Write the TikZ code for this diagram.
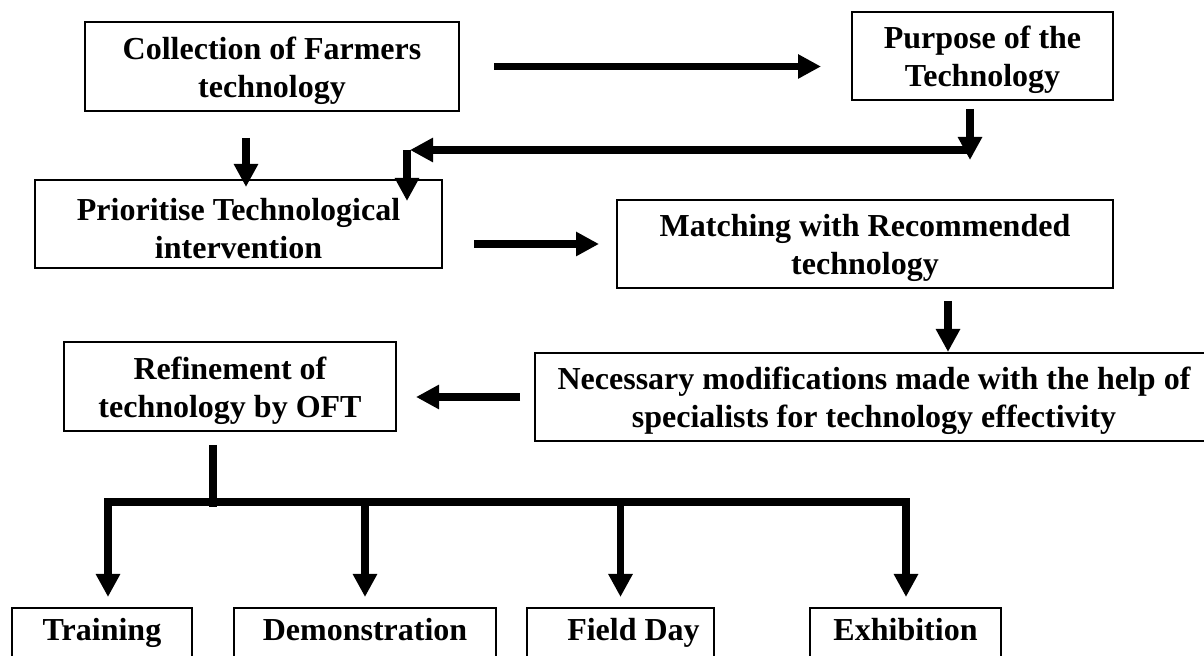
\documentclass[tikz,border=0pt]{standalone}
\usepackage{fontspec}
\setmainfont{Liberation Serif}
\usepackage{tikz}
\usetikzlibrary{arrows.meta, positioning}

% extra room above the first line, as in the original boxes
\newcommand{\toproom}{\rule{0pt}{15.5pt}}

\begin{document}
\begin{tikzpicture}[x=0.5pt, y=-0.5pt,
  stagebox/.style={draw, line width=1pt, align=center, inner sep=0pt,
    minimum height=44pt, font=\fontsize{16}{19}\selectfont\bfseries},
  outbox/.style={stagebox, minimum height=26pt, text height=11pt, text depth=4pt},
  flow/.style={-{Triangle[length=11.5pt, width=11.5pt]}, line width=3.75pt},
  trunk/.style={line width=3.75pt}]
  \useasboundingbox (0,0) rectangle (1204,656);
  \clip (0,0) rectangle (1204,656);

  % Stages
  \node[stagebox, minimum width=187pt, minimum height=44.5pt] (collect) at (272,66.5)
       {\toproom Collection of Farmers\\technology};
  \node[stagebox, minimum width=130.5pt] (purpose) at (982.5,56)
       {\toproom Purpose of the\\Technology};
  \node[stagebox, minimum width=203.5pt] (prior) at (238.5,224)
       {\toproom Prioritise Technological\\intervention};
  \node[stagebox, minimum width=248pt] (match) at (865,244)
       {\toproom Matching with Recommended\\technology};
  \node[stagebox, minimum width=339pt] (modify) at (874,397)
       {\toproom Necessary modifications made with the help of\\specialists for technology effectivity};
  \node[stagebox, minimum width=166pt, minimum height=44.5pt] (refine) at (230,386.5)
       {\toproom Refinement of\\technology by OFT};

  % Outreach boxes (bottom edges run off the page)
  \node[outbox, minimum width=90pt]   (train) at (102,634)   {Training};
  \node[outbox, minimum width=131pt]  (demo)  at (365,634)   {Demonstration};
  \node[outbox, minimum width=93.5pt] (field) at (620.5,634) {\hspace*{13pt}Field Day};
  \node[outbox, minimum width=95.5pt] (exhib) at (905.5,634) {Exhibition};

  % Helper points
  \coordinate (c1) at ([xshift=-13pt]collect.south);
  \coordinate (p1) at ([xshift=-6.25pt]purpose.south);
  \coordinate (m1) at ([xshift=41.5pt]match.south);
  \coordinate (r1) at ([xshift=-8.5pt]refine.south);
  \coordinate (retR) at (970,150);
  \coordinate (retL) at (407,150);
  \coordinate (busL) at (108,502);
  \coordinate (busR) at (906,502);

  % === Upper flow ===
  \draw[flow, shorten <=17pt, shorten >=15pt] (collect.east) -- (collect.east -| purpose.west);
  \draw[flow, shorten <=13pt, shorten >=-4pt] (c1) -- (c1 |- prior.north);
  \draw[flow, shorten <=4pt, shorten >=-5pt] (p1) -- (retR);
  \draw[flow, shorten >=1.5pt] (retR) -- (retL);
  \draw[flow, shorten >=-11pt] (retL) -- (retL |- prior.north);
  \draw[flow, shorten <=15.5pt, shorten >=8.5pt] (prior.east |- match.west) -- (match.west);
  \draw[flow, shorten <=6pt] (m1) -- (m1 |- modify.north);
  \draw[flow, shorten <=7pt, shorten >=9.5pt] (modify.west) -- (modify.west -| refine.east);

  % === Spread to outreach ===
  \draw[trunk, shorten <=6.5pt, shorten >=-2.5pt] (r1) -- (r1 |- busL);
  \draw[trunk, line cap=rect] (busL) -- (busR);
  \draw[flow, shorten >=5pt] (busL) -- (busL |- train.north);
  \foreach \n in {demo, field}{
    \draw[flow, shorten >=5pt] (\n.north |- busL) -- (\n.north);
  }
  \draw[flow, shorten >=5pt] (busR) -- (busR |- exhib.north);
\end{tikzpicture}
\end{document}
